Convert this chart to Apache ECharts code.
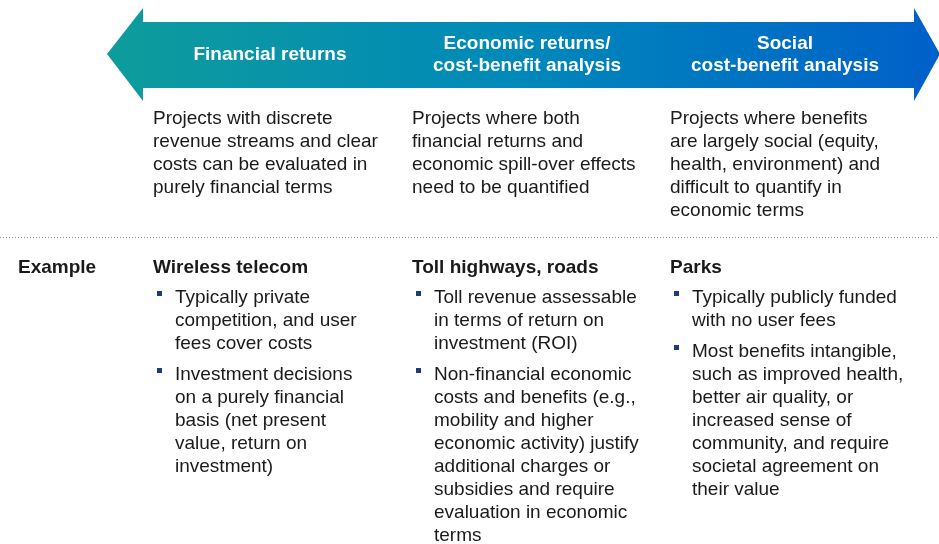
<!DOCTYPE html>
<html>
<head>
<meta charset="utf-8">
<script src="https://cdn.jsdelivr.net/npm/echarts@6/dist/echarts.min.js"></script>
<style>
  html, body { margin: 0; padding: 0; background: #fff; }
  #chart { width: 939px; height: 544px; }
</style>
</head>
<body>
<div id="chart"></div>
<script>
// column headers inside the arrow
const headers = [
  "Financial returns",
  "Economic returns/\ncost-benefit analysis",
  "Social\ncost-benefit analysis"
];
// description under each header
const descriptions = [
  "Projects with discrete\nrevenue streams and clear\ncosts can be evaluated in\npurely financial terms",
  "Projects where both\nfinancial returns and\neconomic spill-over effects\nneed to be quantified",
  "Projects where benefits\nare largely social (equity,\nhealth, environment) and\ndifficult to quantify in\neconomic terms"
];
const rowLabel = "Example";
const examples = ["Wireless telecom", "Toll highways, roads", "Parks"];
const bullets = [
  [
    "Typically private\ncompetition, and user\nfees cover costs",
    "Investment decisions\non a purely financial\nbasis (net present\nvalue, return on\ninvestment)"
  ],
  [
    "Toll revenue assessable\nin terms of return on\ninvestment (ROI)",
    "Non-financial economic\ncosts and benefits (e.g.,\nmobility and higher\neconomic activity) justify\nadditional charges or\nsubsidies and require\nevaluation in economic\nterms"
  ],
  [
    "Typically publicly funded\nwith no user fees",
    "Most benefits intangible,\nsuch as improved health,\nbetter air quality, or\nincreased sense of\ncommunity, and require\nsocietal agreement on\ntheir value"
  ]
];

const chart = echarts.init(document.getElementById("chart"));
const FONT = "Liberation Sans, Arial, sans-serif";
const FS = "19px ";
const LH = 23;
const colX = [153, 412, 670];
const colCenter = [270, 527, 785];

const elements = [];

// double-headed arrow
elements.push({
  type: "polygon",
  shape: {
    points: [
      [107, 54], [143, 8], [143, 22], [914, 22], [914, 8],
      [940, 54], [914, 101], [914, 88], [143, 88], [143, 101]
    ]
  },
  style: {
    fill: new echarts.graphic.LinearGradient(0, 0, 1, 0, [
      { offset: 0, color: "#0F9C9C" },
      { offset: 0.5, color: "#0088BA" },
      { offset: 1, color: "#0060C9" }
    ])
  }
});

headers.forEach((h, i) => {
  elements.push({
    type: "text",
    x: colCenter[i], y: 55,
    style: {
      text: h, fill: "#fff", font: "bold " + FS + FONT,
      align: "center", verticalAlign: "middle", lineHeight: 22
    }
  });
});

descriptions.forEach((d, i) => {
  elements.push({
    type: "text",
    x: colX[i], y: 107,
    style: { text: d, fill: "#1a1a1a", font: FS + FONT, lineHeight: LH, verticalAlign: "top" }
  });
});

// dotted separator
elements.push({
  type: "line",
  shape: { x1: 0, y1: 237.5, x2: 939, y2: 237.5 },
  style: { stroke: "#8c8c8c", lineWidth: 1, lineDash: [1, 2] }
});

elements.push({
  type: "text",
  x: 18, y: 268,
  style: { text: rowLabel, fill: "#1a1a1a", font: "bold " + FS + FONT, verticalAlign: "middle" }
});

examples.forEach((e, i) => {
  elements.push({
    type: "text",
    x: colX[i], y: 268,
    style: { text: e, fill: "#1a1a1a", font: "bold " + FS + FONT, verticalAlign: "middle" }
  });
  let top = 286;
  bullets[i].forEach((b) => {
    elements.push({
      type: "rect",
      shape: { x: colX[i] + 4, y: top + 5, width: 5, height: 5 },
      style: { fill: "#1F3C7A" }
    });
    elements.push({
      type: "text",
      x: colX[i] + 22, y: top,
      style: { text: b, fill: "#1a1a1a", font: FS + FONT, lineHeight: LH, verticalAlign: "top" }
    });
    top += b.split("\n").length * LH + 8;
  });
});

chart.setOption({
  animation: false,
  graphic: { elements: elements }
});
</script>
</body>
</html>
